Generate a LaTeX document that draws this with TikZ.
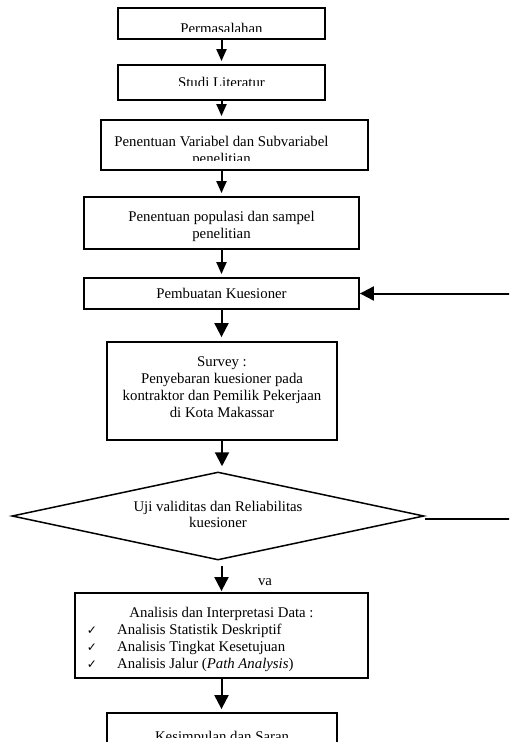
\documentclass[tikz,border=0pt]{standalone}
\usepackage{fontspec}
\setmainfont{Liberation Serif}
\newfontfamily\simbol{DejaVu Sans}
\usetikzlibrary{arrows.meta,shapes.geometric}

\tikzset{
  kotak/.style={draw, line width=1.8pt, inner sep=0pt},
  teks/.style={inner sep=0pt, font=\fontsize{14.8}{17}\selectfont},
  panah/.style={line width=2pt, shorten >=3pt, -{Triangle[width=10pt,length=12pt]}},
  panahbesar/.style={line width=2pt, shorten >=3pt, -{Triangle[width=14pt,length=14pt]}},
}

\begin{document}
\begin{tikzpicture}[x=1pt,y=-1pt]
  \useasboundingbox (0,0) rectangle (509,742);
  \clip (0,0) rectangle (509,742);
  % kotak alur
  \node[kotak, minimum width=207pt, minimum height=31pt] (masalah) at (221.5,23.5) {};
  \node[kotak, minimum width=207pt, minimum height=35pt] (studi) at (221.5,82.5) {};
  \node[kotak, minimum width=267pt, minimum height=50pt] (variabel) at (234.5,145) {};
  \node[kotak, minimum width=275pt, minimum height=52pt] (populasi) at (221.5,223) {};
  \node[kotak, minimum width=275pt, minimum height=31pt] (kuesioner) at (221.5,293.5) {};
  \node[kotak, minimum width=230pt, minimum height=98pt] (survey) at (222,391) {};
  \node[kotak, diamond, line width=1.5pt, minimum width=412pt, minimum height=88pt] (uji) at (218,516) {};
  \node[kotak, minimum width=293pt, minimum height=85pt] (analisis) at (221.5,635.5) {};
  \node[kotak, minimum width=230pt, minimum height=54pt] (kesimpulan) at (222,740) {};
  % teks (sebagian terpotong oleh kotaknya)
  \begin{scope}
    \clip (118,8) rectangle (325,31);
    \node[teks, anchor=base] (t-masalah) at (221.5,33) {Permasalahan};
  \end{scope}
  \begin{scope}
    \clip (118,65) rectangle (325,85.5);
    \node[teks, anchor=base] (t-studi) at (221.5,87.5) {Studi Literatur};
  \end{scope}
  \begin{scope}
    \clip (101,120) rectangle (368,160);
    \node[teks, align=center] (t-variabel) at (221.5,151.5) {Penentuan Variabel dan Subvariabel\\ penelitian};
  \end{scope}
  \node[teks, align=center] (t-populasi) at (221.5,226.5) {Penentuan populasi dan sampel\\ penelitian};
  \begin{scope}
    \clip (84,278) rectangle (359,297);
    \node[teks, anchor=base] (t-kuesioner) at (221.5,298) {Pembuatan Kuesioner};
  \end{scope}
  \node[teks, align=center] (t-survey) at (222,387) {Survey :\\ Penyebaran kuesioner pada\\ kontraktor dan Pemilik Pekerjaan\\ di Kota Makassar};
  \node[teks, align=center, font=\fontsize{14.8}{16}\selectfont] (t-uji) at (218,514.5) {Uji validitas dan Reliabilitas\\ kuesioner};
  \node[teks, anchor=base] (t-va) at (265,585) {va};
  \node[teks, anchor=base] (t-analisis) at (221.5,617) {Analisis dan Interpretasi Data :};
  \foreach \y/\isi [count=\i] in {634/{Analisis Statistik Deskriptif}, 651/{Analisis Tingkat Kesetujuan}, 668/{Analisis Jalur (\textit{Path Analysis})}}{
    \node[teks, anchor=base] (cek\i) at (92,\y) {\simbol\fontsize{12}{14}\selectfont ✓};
    \node[teks, anchor=base west] (butir\i) at (117,\y) {\isi};
  }
  \begin{scope}
    \clip (107,713) rectangle (337,737);
    \node[teks, anchor=base] (t-kesimpulan) at (222,741.5) {Kesimpulan dan Saran};
  \end{scope}
  % panah
  \draw[panah] (masalah.south) -- (studi.north);
  \draw[panah] (studi.south) -- (studi.south |- variabel.north);
  \draw[panah] (variabel.south -| studi.south) -- (populasi.north);
  \draw[panah] (populasi.south) -- (kuesioner.north);
  \draw[panahbesar, shorten >=4pt] (kuesioner.south) -- (kuesioner.south |- survey.north);
  \draw[panahbesar, shorten >=5pt] (survey.south) -- (survey.south |- uji.north);
  \draw[panahbesar, shorten <=5pt, shorten >=1pt] (uji.south -| analisis.north) -- (analisis.north);
  \draw[panahbesar] (analisis.south) -- (analisis.south |- kesimpulan.north);
  % garis balik
  \coordinate (kanan1) at (512,293.5);
  \coordinate (kanan2) at (512,519);
  \draw[panahbesar, shorten >=0pt] (kanan1) -- (kuesioner.east);
  \draw[line width=1.4pt] ([yshift=-3pt]uji.east) -- (kanan2);
\end{tikzpicture}
\end{document}
